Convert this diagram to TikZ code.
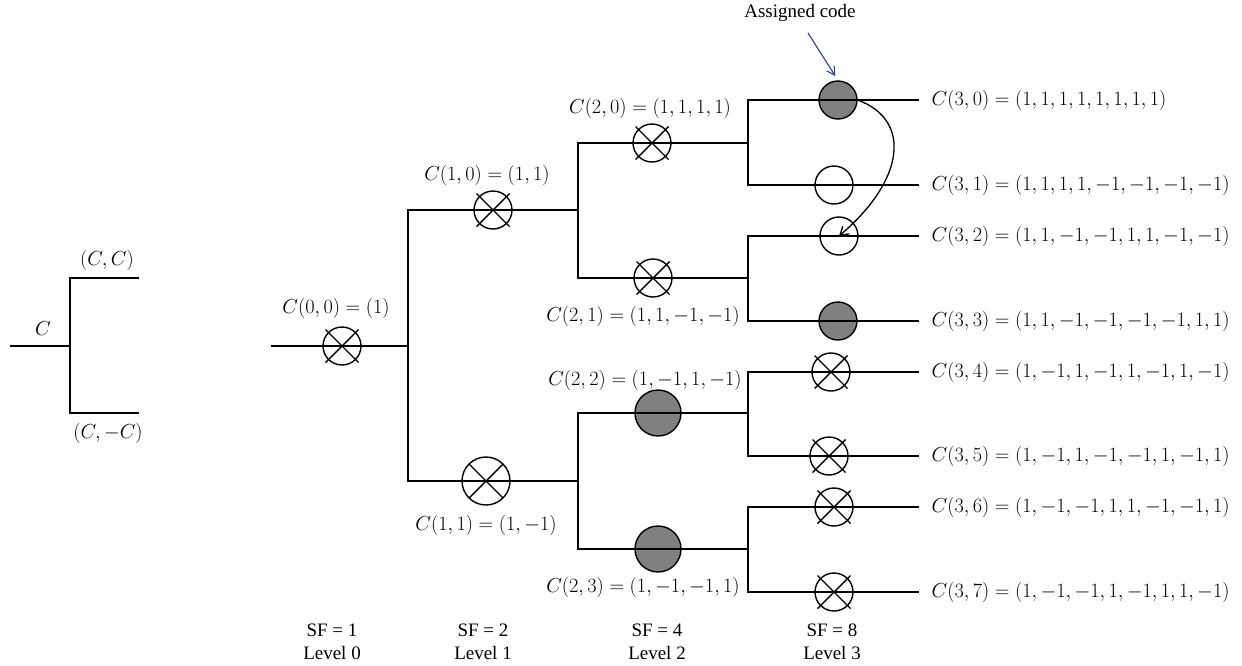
\documentclass[tikz,border=0pt]{standalone}
\usepackage{fix-cm}
\usepackage{fontspec}
\setmainfont{Liberation Serif}
\usetikzlibrary{arrows.meta}
\definecolor{codegray}{RGB}{128,128,128}
\definecolor{arrowblue}{RGB}{40,60,185}
\begin{document}
\begin{tikzpicture}[x=1pt,y=-1pt,line width=1.4pt,
  font=\fontsize{19}{23}\selectfont,
  xc/.style={circle,draw,minimum size=38pt,inner sep=0pt},
  xcbig/.style={circle,draw,minimum size=48pt,inner sep=0pt},
  oc/.style={circle,draw,minimum size=38pt,inner sep=0pt},
  fc/.style={circle,draw,fill=codegray,minimum size=38pt,inner sep=0pt},
  fcbig/.style={circle,draw,fill=codegray,minimum size=46pt,inner sep=0pt},
  lab/.style={inner sep=0pt},
  mlab/.style={inner sep=0pt,font=\fontsize{20.3}{24}\selectfont},
  tree/.style={line width=1.4pt,line cap=rect}]
\useasboundingbox (0,0) rectangle (1242,665);

% ---------- small left diagram ----------
\coordinate (sl) at (11,346);
\coordinate (sj) at (70,346);
\coordinate (sjt) at (70,278);
\coordinate (sjb) at (70,413);
\coordinate (set) at (138,278);
\coordinate (seb) at (138,413);
\draw[tree] (sl) -- (sj);
\draw[tree] (set) -- (sjt) -- (sjb) -- (seb);
\node[mlab] (sC) at (43,329) {$C$};
\node[mlab] (sCC) at (107,260) {$(C,C)$};
\node[mlab] (sCmC) at (108,433) {$(C,-C)$};

% ---------- circles ----------
\node[xc] (n00) at (342,346) {};
\node[xc] (n10) at (493,210) {};
\node[xcbig] (n11) at (486,481) {};
\node[xc] (n20) at (652,143) {};
\node[xc] (n21) at (653,278) {};
\node[fcbig] (n22) at (658,413) {};
\node[fcbig] (n23) at (658,549) {};
\node[fc] (n30) at (838,100) {};
\node[oc] (n31) at (834,185) {};
\node[oc] (n32) at (839,236) {};
\node[fc] (n33) at (838,321) {};
\node[xc] (n34) at (831,372) {};
\node[xc] (n35) at (829,456) {};
\node[xc] (n36) at (834,507) {};
\node[xc] (n37) at (834,592) {};

\foreach \n in {n00,n10,n20,n21,n34,n35,n36,n37}
  \draw (\n.center) +(-16.5,-16.5) -- +(16.5,16.5)
        (\n.center) +(-16.5,16.5) -- +(16.5,-16.5);
\draw (n11.center) +(-17,-17) -- +(17,17)
      (n11.center) +(-17,17) -- +(17,-17);

% ---------- tree junctions ----------
\coordinate (root) at (272,346);
\coordinate (j0) at (408,346);
\coordinate (j0t) at (408,210);
\coordinate (j0b) at (408,481);
\coordinate (j10) at (578,210);
\coordinate (j10t) at (578,143);
\coordinate (j10b) at (578,278);
\coordinate (j11) at (578,481);
\coordinate (j11t) at (578,413);
\coordinate (j11b) at (578,549);
\coordinate (j20) at (748,143);
\coordinate (j20t) at (748,100);
\coordinate (j20b) at (748,185);
\coordinate (j21) at (748,278);
\coordinate (j21t) at (748,236);
\coordinate (j21b) at (748,321);
\coordinate (j22) at (748,413);
\coordinate (j22t) at (748,372);
\coordinate (j22b) at (748,456);
\coordinate (j23) at (748,549);
\coordinate (j23t) at (748,507);
\coordinate (j23b) at (748,592);
\foreach \i/\y in {0/100,1/185,2/236,3/321,4/372,5/456,6/507,7/592}
  \coordinate (e3\i) at (918,\y);

% level 0
\draw[tree] (root) -- (n00.center) -- (j0);
\draw[tree] (j0t) -- (j0b);
% level 1
\draw[tree] (j0t) -- (n10.center) -- (j10);
\draw[tree] (j0b) -- (n11.center) -- (j11);
\draw[tree] (j10t) -- (j10b);
\draw[tree] (j11t) -- (j11b);
% level 2
\draw[tree] (j10t) -- (n20.center) -- (j20);
\draw[tree] (j10b) -- (n21.center) -- (j21);
\draw[tree] (j11t) -- (n22.center) -- (j22);
\draw[tree] (j11b) -- (n23.center) -- (j23);
\draw[tree] (j20t) -- (j20b);
\draw[tree] (j21t) -- (j21b);
\draw[tree] (j22t) -- (j22b);
\draw[tree] (j23t) -- (j23b);
% level 3
\draw[tree] (j20t) -- (n30.center) -- (e30);
\draw[tree] (j20b) -- (n31.center) -- (e31);
\draw[tree] (j21t) -- (n32.center) -- (e32);
\draw[tree] (j21b) -- (n33.center) -- (e33);
\draw[tree] (j22t) -- (n34.center) -- (e34);
\draw[tree] (j22b) -- (n35.center) -- (e35);
\draw[tree] (j23t) -- (n36.center) -- (e36);
\draw[tree] (j23b) -- (n37.center) -- (e37);

% ---------- code labels ----------
\node[mlab] (l00) at (336,308) {$C(0,0) = (1)$};
\node[mlab] (l10) at (487,175) {$C(1,0) = (1,1)$};
\node[mlab] (l11) at (486,525) {$C(1,1) = (1,-1)$};
\node[mlab] (l20) at (650,108) {$C(2,0) = (1,1,1,1)$};
\node[mlab] (l21) at (643,316) {$C(2,1) = (1,1,-1,-1)$};
\node[mlab] (l22) at (645,380) {$C(2,2) = (1,-1,1,-1)$};
\node[mlab] (l23) at (643,587) {$C(2,3) = (1,-1,-1,1)$};

\node[mlab,anchor=west] (l30) at (931,100) {$C(3,0) = (1,1,1,1,1,1,1,1)$};
\node[mlab,anchor=west] (l31) at (931,185) {$C(3,1) = (1,1,1,1,-1,-1,-1,-1)$};
\node[mlab,anchor=west] (l32) at (931,236) {$C(3,2) = (1,1,-1,-1,1,1,-1,-1)$};
\node[mlab,anchor=west] (l33) at (931,321) {$C(3,3) = (1,1,-1,-1,-1,-1,1,1)$};
\node[mlab,anchor=west] (l34) at (931,372) {$C(3,4) = (1,-1,1,-1,1,-1,1,-1)$};
\node[mlab,anchor=west] (l35) at (931,456) {$C(3,5) = (1,-1,1,-1,-1,1,-1,1)$};
\node[mlab,anchor=west] (l36) at (931,507) {$C(3,6) = (1,-1,-1,1,1,-1,-1,1)$};
\node[mlab,anchor=west] (l37) at (931,592) {$C(3,7) = (1,-1,-1,1,-1,1,1,-1)$};

% ---------- level captions ----------
\foreach \x/\sf/\lv in {332/1/0,483/2/1,657/4/2,832/8/3}{
  \node[lab] (sf\lv) at (\x,630) {SF = \sf};
  \node[lab] (lv\lv) at (\x,653) {Level \lv};
}

% ---------- assigned code annotation ----------
\node[lab] (asg) at (800,13) {Assigned code};
\coordinate (asgtail) at (808,33);
\draw[arrowblue,line width=1.1pt,-{Straight Barb[length=8pt,width=9pt]},shorten >=5pt]
  (asgtail) -- (n30.north);
\draw[line width=1.3pt,-{Straight Barb[length=8pt,width=10pt]}]
  (n30.east) .. controls (912,120) and (905,180) .. (n32.center);
\end{tikzpicture}
\end{document}
